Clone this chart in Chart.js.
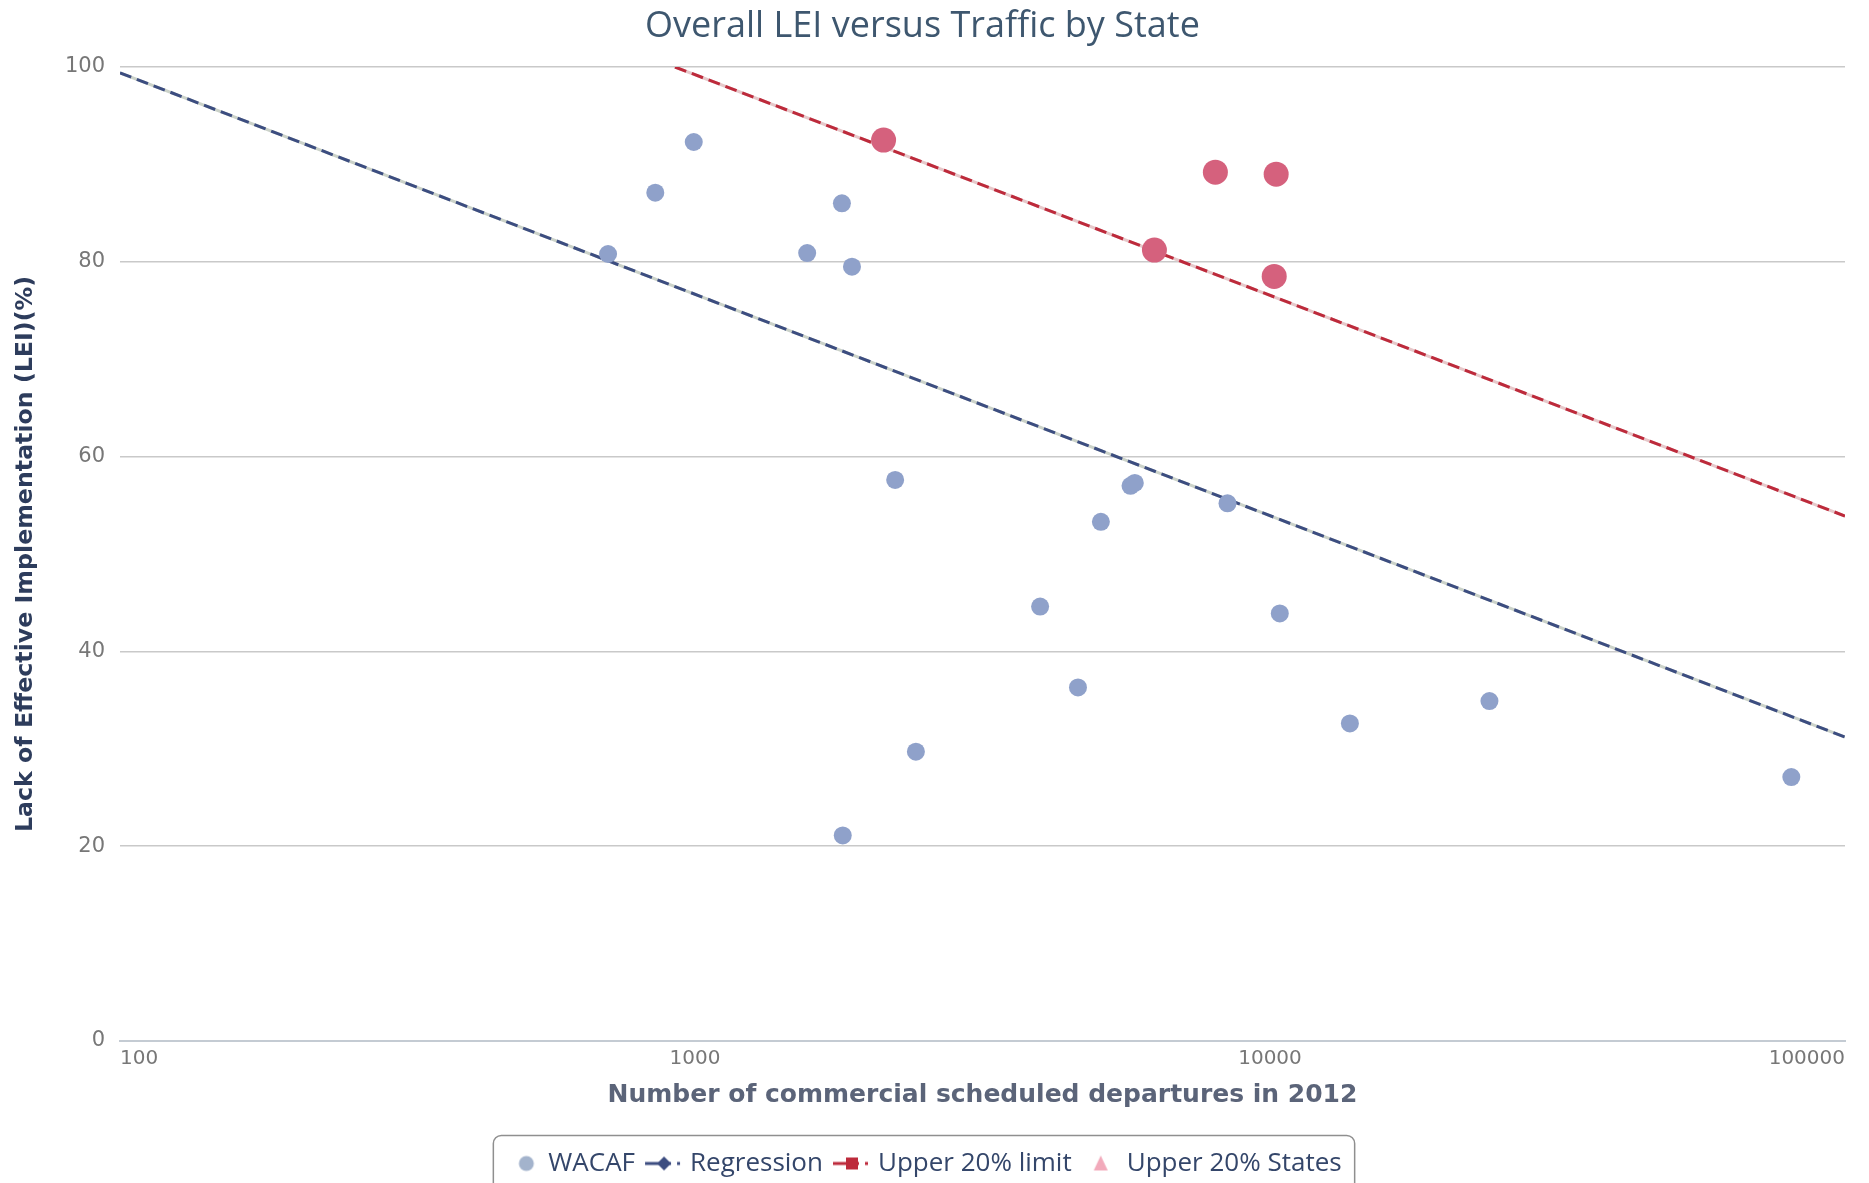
<!DOCTYPE html>
<html>
<head>
<meta charset="utf-8">
<title>Overall LEI versus Traffic by State</title>
<script src="https://cdn.jsdelivr.net/npm/chart.js@4.4.1/dist/chart.umd.min.js"></script>
<style>
  html, body { margin: 0; padding: 0; background: #ffffff; overflow: hidden; }
  canvas { display: block; }
</style>
</head>
<body>
<canvas id="chart" width="1869" height="1183"></canvas>
<script>
// ---- data -------------------------------------------------------------
const wacafDepartures = [706, 853, 995, 1567, 1801, 1875, 2229, 2422, 1807, 3983, 4635, 5080, 5720, 5820, 8435, 10400, 13770, 24080, 80660];
const wacafLEI        = [80.8, 87.1, 92.3, 80.9, 86.0, 79.5, 57.6, 29.7, 21.1, 44.6, 36.3, 53.3, 57.0, 57.3, 55.2, 43.9, 32.6, 34.9, 27.1];

const topStateDepartures = [2128, 6295, 8035, 10250, 10170];
const topStateLEI        = [92.5, 81.2, 89.2, 89.0, 78.5];

const regressionDepartures = [100, 100000];
const regressionLEI        = [99.4, 31.2];

const limitDepartures = [923, 100000];
const limitLEI        = [100, 53.9];

const departureTicks = [100, 1000, 10000, 100000];
const leiRange = [0, 100];
const leiStep = 20;

const seriesNames = ['WACAF', 'Regression', 'Upper 20% limit', 'Upper 20% States'];

// ---- helpers ------------------------------------------------------------
const toPoints = (xs, ys) => xs.map((x, i) => ({ x, y: ys[i] }));

const COLORS = {
  title: '#3E576F',
  wacaf: '#8fa1ca',
  wacafKey: '#a3b3cc',
  regression: '#3c4d80',
  regressionUnder: '#cbd2c9',
  limit: '#bd2a3b',
  limitUnder: '#e6c8ca',
  states: '#d5617d',
  statesKey: '#f2aabb',
  grid: '#c9c9c9',
  tick: '#777777',
  legendText: '#34466a'
};

// legend symbols: a 38px key drawn at the right end of a slightly wider canvas,
// so the key sits close to its label
const KEY_BOX = 32;
const KEY_CANVAS = 44;
function keySymbol(draw) {
  const c = document.createElement('canvas');
  c.width = KEY_CANVAS; c.height = 24;
  const g = c.getContext('2d');
  g.translate(KEY_CANVAS - 38, 0);
  draw(g, 19, 12);
  return c;
}
const keyWacaf = keySymbol((g, cx, cy) => {
  g.fillStyle = COLORS.wacafKey;
  g.beginPath(); g.arc(cx + 4, cy, 7.5, 0, Math.PI * 2); g.fill();
});
const keyRegression = keySymbol((g, cx, cy) => {
  g.strokeStyle = COLORS.regression; g.lineWidth = 3;
  g.beginPath(); g.moveTo(0, cy); g.lineTo(26, cy); g.stroke();
  g.fillStyle = COLORS.regression;
  g.beginPath(); g.moveTo(cx, cy - 7); g.lineTo(cx + 7, cy); g.lineTo(cx, cy + 7); g.lineTo(cx - 7, cy); g.closePath(); g.fill();
  g.fillRect(32, cy - 1.5, 3, 3);
});
const keyLimit = keySymbol((g, cx, cy) => {
  g.strokeStyle = COLORS.limit; g.lineWidth = 3;
  g.beginPath(); g.moveTo(0, cy); g.lineTo(26, cy); g.stroke();
  g.fillStyle = COLORS.limit;
  g.fillRect(cx - 6, cy - 6, 12, 12);
  g.fillRect(32, cy - 1.5, 3, 3);
});
const keyStates = keySymbol((g, cx, cy) => {
  g.fillStyle = COLORS.statesKey;
  g.beginPath(); g.moveTo(cx, cy - 8); g.lineTo(cx + 7, cy + 7); g.lineTo(cx - 7, cy + 7); g.closePath(); g.fill();
});

// rounded frame around the legend row
const legendFrame = {
  id: 'legendFrame',
  afterDraw(chart) {
    const lg = chart.legend;
    if (!lg || !lg.legendHitBoxes || !lg.legendHitBoxes.length) return;
    const boxes = lg.legendHitBoxes;
    const left = Math.min(...boxes.map(b => b.left)) - 10;
    const right = Math.max(...boxes.map(b => b.left + b.width)) + 13;
    const midY = boxes[0].top + boxes[0].height / 2;
    const top = midY - 28;
    const ctx = chart.ctx;
    ctx.save();
    ctx.strokeStyle = '#8f8f8f';
    ctx.lineWidth = 1.5;
    ctx.beginPath();
    ctx.roundRect(left, top, right - left, 90, 8);
    ctx.stroke();
    ctx.restore();
  }
};

const PLOT_BOTTOM = 1041;
const LAYOUT_BOTTOM = -3.5;

new Chart(document.getElementById('chart'), {
  type: 'scatter',
  data: {
    datasets: [
      {
        label: seriesNames[0],
        data: toPoints(wacafDepartures, wacafLEI),
        backgroundColor: COLORS.wacaf,
        borderWidth: 0,
        pointRadius: 9,
        order: 1
      },
      {
        label: seriesNames[3],
        data: toPoints(topStateDepartures, topStateLEI),
        backgroundColor: COLORS.states,
        borderWidth: 0,
        pointRadius: 12.5,
        order: 0
      },
      {
        label: seriesNames[1],
        type: 'line',
        data: toPoints(regressionDepartures, regressionLEI),
        borderColor: COLORS.regression,
        borderWidth: 3,
        borderDash: [12, 6],
        pointRadius: 0,
        fill: false,
        order: 2
      },
      {
        label: seriesNames[2],
        type: 'line',
        data: toPoints(limitDepartures, limitLEI),
        borderColor: COLORS.limit,
        borderWidth: 3,
        borderDash: [12, 6],
        pointRadius: 0,
        fill: false,
        order: 2
      },
      {
        label: seriesNames[1] + ' (under)',
        type: 'line',
        data: toPoints(regressionDepartures, regressionLEI),
        borderColor: COLORS.regressionUnder,
        borderWidth: 3,
        pointRadius: 0,
        fill: false,
        order: 3
      },
      {
        label: seriesNames[2] + ' (under)',
        type: 'line',
        data: toPoints(limitDepartures, limitLEI),
        borderColor: COLORS.limitUnder,
        borderWidth: 3,
        pointRadius: 0,
        fill: false,
        order: 3
      }
    ]
  },
  options: {
    responsive: false,
    animation: false,
    devicePixelRatio: 1,
    layout: { padding: { left: 0, right: 24, top: 0, bottom: LAYOUT_BOTTOM } },
    plugins: {
      title: {
        display: true,
        text: 'Overall LEI versus Traffic by State',
        color: COLORS.title,
        font: { family: "'Open Sans', sans-serif", size: 36, weight: 'normal', lineHeight: 1.2 },
        padding: { top: 5, bottom: 18.8 }
      },
      legend: {
        position: 'bottom',
        labels: {
          usePointStyle: true,
          pointStyleWidth: KEY_BOX,
          padding: 10,
          color: COLORS.legendText,
          font: { family: "'Open Sans', sans-serif", size: 26 },
          generateLabels() {
            const keys = [
              [seriesNames[0], keyWacaf, 0],
              [seriesNames[1], keyRegression, 2],
              [seriesNames[2], keyLimit, 3],
              [seriesNames[3], keyStates, 1]
            ];
            return keys.map(([text, sym, idx]) => ({
              text,
              pointStyle: sym,
              fillStyle: 'transparent',
              strokeStyle: 'transparent',
              lineWidth: 0,
              hidden: false,
              datasetIndex: idx,
              fontColor: COLORS.legendText
            }));
          }
        }
      },
      tooltip: { enabled: false }
    },
    scales: {
      x: {
        type: 'logarithmic',
        min: departureTicks[0],
        max: departureTicks[departureTicks.length - 1],
        afterBuildTicks(axis) {
          axis.ticks = departureTicks.map(v => ({ value: v, major: true }));
        },
        afterFit(axis) {
          axis.height = axis.chart.height - LAYOUT_BOTTOM - axis.chart.legend.height - PLOT_BOTTOM;
        },
        ticks: {
          align: 'inner',
          autoSkip: false,
          maxRotation: 0,
          padding: 6,
          color: COLORS.tick,
          font: { family: "'DejaVu Sans', sans-serif", size: 20 },
          callback: v => String(v)
        },
        grid: { display: false, drawTicks: false },
        border: { display: true, color: '#c4cbd3', width: 2 },
        title: {
          display: true,
          text: 'Number of commercial scheduled departures in 2012',
          color: '#5b6479',
          font: { family: "'DejaVu Sans', sans-serif", size: 25, weight: 'bold', lineHeight: 1.2 },
          padding: { top: 0, bottom: 30 }
        }
      },
      y: {
        min: leiRange[0],
        max: leiRange[1],
        afterFit(axis) { axis.width = 120; },
        ticks: {
          stepSize: leiStep,
          padding: 15,
          color: COLORS.tick,
          font: { family: "'DejaVu Sans', sans-serif", size: 21 }
        },
        grid: { color: COLORS.grid, lineWidth: 1.5, drawTicks: false },
        border: { display: false },
        title: {
          display: true,
          text: 'Lack of Effective Implementation (LEI)(%)',
          color: '#2d3c5c',
          font: { family: "'DejaVu Sans', sans-serif", size: 23.7, weight: 'bold', lineHeight: 1.2 },
          padding: { top: 12, bottom: 0 }
        }
      }
    }
  },
  plugins: [legendFrame]
});
</script>
</body>
</html>
